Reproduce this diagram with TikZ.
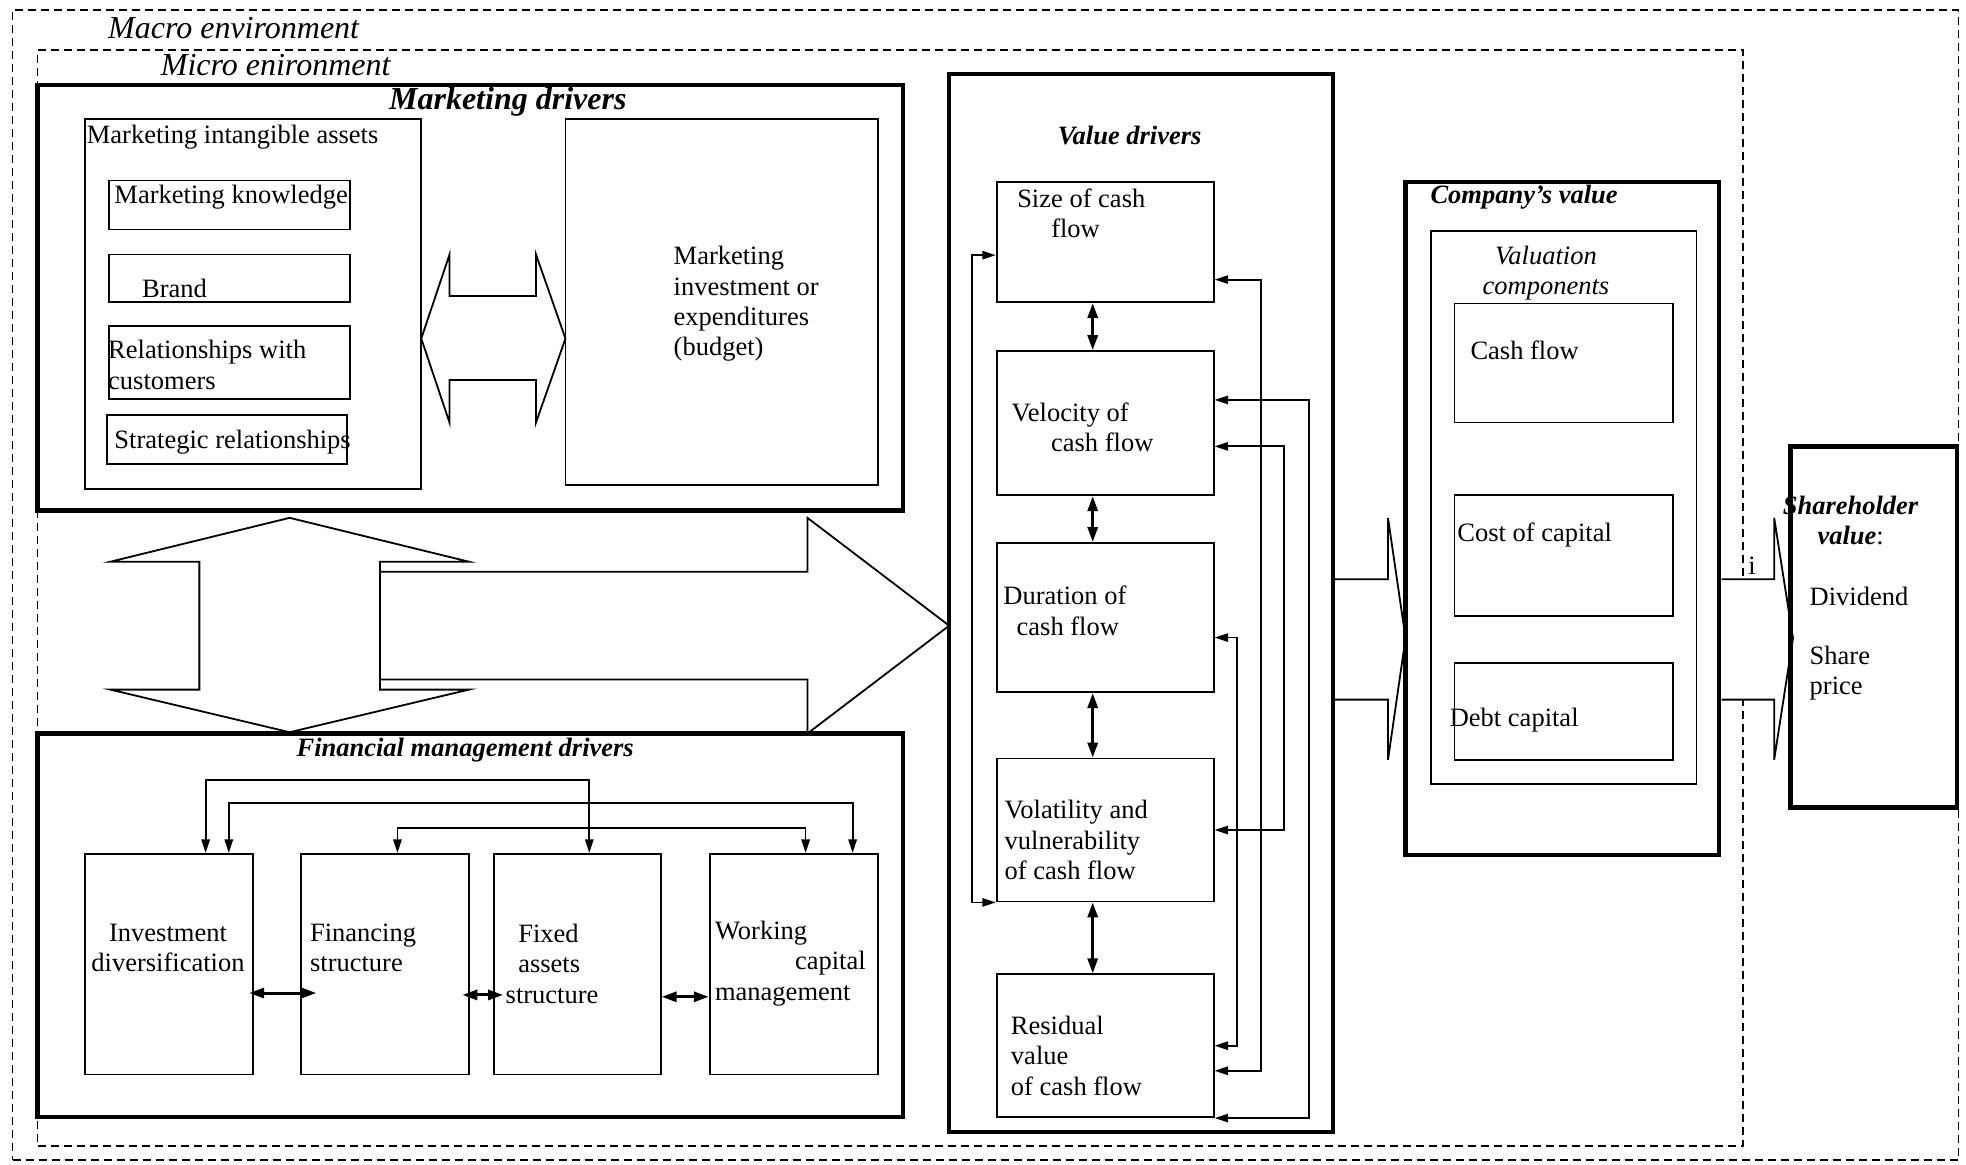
\documentclass[tikz,border=0pt]{standalone}
\usepackage{fontspec}
\setmainfont{Liberation Serif}
\usetikzlibrary{arrows.meta, positioning, calc, fit}

\newcommand{\txtfont}{\fontsize{13.25}{15.2}\selectfont}
\newcommand{\drvfont}{\fontsize{16}{19}\selectfont}

\begin{document}
\begin{tikzpicture}[
    x=0.6269pt, y=-0.6269pt,
    frame/.style={draw, dash pattern=on 4pt off 2.5pt, line width=0.8pt, inner sep=0pt},
    box/.style={draw, line width=0.9pt, inner sep=0pt},
    bigbox/.style={draw, line width=2.2pt, inner sep=0pt},
    blockarrow/.style={draw, line width=0.9pt, fill=white},
    link/.style={line width=0.9pt, {Triangle[length=6.8pt,width=4.2pt]}-{Triangle[length=6.8pt,width=4.2pt]}},
    dlink/.style={line width=1.5pt, {Triangle[length=7.5pt,width=5pt]}-{Triangle[length=7.5pt,width=5pt]}},
    txt/.style={inner sep=0pt, anchor=west, align=left, font=\txtfont},
    ttl/.style={inner sep=0pt, font=\txtfont\bfseries\itshape}
]
    \useasboundingbox (0,0) rectangle (1568,929);

    % environments
    \node[frame, fit={(10,8) (1562,925)}] (macro) {};
    \node[frame, fit={(30,40) (1390,914)}] (micro) {};

    % block arrows
    \draw[blockarrow] (336,270) -- (358.5,203) -- (358.5,236) -- (427.5,236) -- (427.5,203) -- (451,270)
        -- (427.5,337) -- (427.5,303) -- (358.5,303) -- (358.5,337) -- cycle;
    \draw[blockarrow] (303,456) -- (644,456) -- (644,413) -- (757,499) -- (644,585) -- (644,542) -- (303,542) -- cycle;
    \draw[blockarrow] (231,413) -- (374,448) -- (303,448) -- (303,550) -- (374,550) -- (231,584)
        -- (88,550) -- (159,550) -- (159,448) -- (88,448) -- cycle;
    \draw[blockarrow] (1063,462) -- (1107,462) -- (1107,413) -- (1121,509) -- (1107,606) -- (1107,558) -- (1063,558);
    \draw[blockarrow] (1373,462) -- (1415,462) -- (1415,413) -- (1430,509) -- (1415,606) -- (1415,558) -- (1373,558);

    % marketing drivers
    \node[bigbox, fit={(30,68) (720,407)}] (mkt) {};
    \node[box, fit={(68,95) (336,390)}] (intang) {};
    \node[box, fit={(87,144) (279,183)}] (know) {};
    \node[box, fit={(87,203) (279,241)}] (brand) {};
    \node[box, fit={(87,260) (279,318)}] (rel) {};
    \node[box, fit={(85.5,331) (277,370)}] (strat) {};
    \node[box, fit={(451,95) (700,387)}] (budget) {};

    % financial management drivers
    \node[bigbox, fit={(30,585) (720,891)}] (fmd) {};
    \node[box, fit={(68,681) (202,857)}] (inv) {};
    \node[box, fit={(240,681) (374,857)}] (fstr) {};
    \node[box, fit={(394,681) (527,857)}] (fixed) {};
    \node[box, fit={(566,681) (700,857)}] (work) {};

    % value drivers
    \node[bigbox, fit={(757,59) (1063,903)}] (vdr) {};
    \node[box, fit={(795,145) (968,241)}] (size) {};
    \node[box, fit={(795,280) (968,395)}] (velo) {};
    \node[box, fit={(795,433) (968,552)}] (dur) {};
    \node[box, fit={(795,605) (968,719)}] (vola) {};
    \node[box, fit={(795,777) (968,891)}] (resid) {};

    % company's value and shareholder value
    \node[bigbox, fit={(1121,145) (1371,682)}] (comp) {};
    \node[box, fit={(1141,184) (1353,625)}] (valc) {};
    \node[box, fit={(1160,242) (1334,337)}] (cf) {};
    \node[box, fit={(1160,395) (1334,491)}] (coc) {};
    \node[box, fit={(1160,529) (1334,606)}] (debt) {};
    \node[bigbox, fit={(1428,356) (1561,644)}] (shv) {};

    % links between value drivers
    \draw[link] ($(size.west)+(0,10.5)$) -- ++(-19,0) |- (vola.south west);
    \draw[link] ($(size.east)+(0,30)$) -- ++(37,0) |- ($(resid.east)+(0,20)$);
    \draw[link] ($(velo.east)+(0,-18.5)$) -- ++(75,0) |- (resid.south east);
    \draw[link] ($(velo.east)+(0,18.5)$) -- ++(55.5,0) |- (vola.east);
    \draw[link] ($(dur.east)+(0,16)$) -- ++(18,0) |- (resid.east);
    \foreach \a/\b in {size/velo, velo/dur, dur/vola, vola/resid}
        \draw[dlink] ($(\a.south)+(-10,0)$) -- ($(\b.north)+(-10,0)$);

    % links between financial drivers
    \draw[link] ($(inv.north)+(29,0)$) -- ++(0,-58) -| ($(fixed.north)+(9.5,0)$);
    \draw[link] ($(inv.north)+(47.5,0)$) -- ++(0,-40) -| ($(work.north)+(47,0)$);
    \draw[link] ($(fstr.north)+(10,0)$) -- ++(0,-20) -| ($(work.north)+(9.5,0)$);
    \draw[dlink] ($(inv.east)+(-4,23)$) -- ($(fstr.west)+(13,23)$);
    \draw[dlink] ($(fstr.east)+(-6,24.5)$) -- ($(fixed.west)+(8,24.5)$);
    \draw[dlink] ($(fixed.east)+(0,26)$) -- ($(work.west)+(0,26)$);

    % labels
    \node[inner sep=0pt, anchor=west, font=\drvfont\itshape] (macrolbl) at (86,22) {Macro environment};
    \node[inner sep=0pt, anchor=west, font=\drvfont\itshape] (microlbl) at (128,52) {Micro enironment};
    \node[inner sep=0pt, font=\drvfont\bfseries\itshape] (mktlbl) at (405,81) {Marketing drivers};
    \node[txt] (intanglbl) at (69,109) {Marketing intangible assets};
    \node[txt] (knowlbl) at (91,157) {Marketing knowledge};
    \node[txt] (brandlbl) at (113,230) {Brand};
    \node[txt] (rellbl) at (86,291) {Relationships with\\customers};
    \node[txt] (stratlbl) at (91,353) {Strategic relationships};
    \node[txt] (budgetlbl) at (537,242.5) {Marketing\\investment or\\expenditures\\(budget)};

    \node[ttl] (fmdlbl) at (371,598) {Financial management drivers};
    \node[txt, align=center, anchor=center] (invlbl) at (134,756) {Investment\\diversification};
    \node[txt] (fstrlbl) at (247,756) {Financing\\structure};
    \node[txt] (fixedlbl) at (403,768.5) {\hspace*{6.3pt}Fixed\\\hspace*{6.3pt}assets\\structure};
    \node[txt] (worklbl) at (570,768.5) {Working\\\hspace*{40pt}capital\\management};

    \node[ttl] (vdrlbl) at (901,108) {Value drivers};
    \node[txt] (sizelbl) at (811,170) {Size of cash\\\hspace*{17pt}flow};
    \node[txt] (velolbl) at (806.6,341) {Velocity of\\\hspace*{19.7pt}cash flow};
    \node[txt] (durlbl) at (800,487) {Duration of\\\hspace*{6.6pt}cash flow};
    \node[txt] (volalbl) at (801,670) {Volatility and\\vulnerability\\of cash flow};
    \node[txt] (residlbl) at (806,842) {Residual\\value\\of cash flow};

    \node[ttl, anchor=west] (complbl) at (1140.6,157) {Company's value};
    \node[txt, align=center, anchor=center, font=\txtfont\itshape] (valclbl) at (1233,218) {Valuation\\components};
    \node[txt] (cflbl) at (1172.5,279) {Cash flow};
    \node[txt] (coclbl) at (1162,427) {Cost of capital};
    \node[txt] (debtlbl) at (1156,574) {Debt capital};
    \node[txt] (ilbl) at (1394,451) {i};
    \node[txt, align=center, anchor=center] (shvlbl) at (1476,415) {\textbf{\textit{Shareholder}}\\\textbf{\textit{value}}:};
    \node[txt] (divlbl) at (1443,476) {Dividend};
    \node[txt] (sharelbl) at (1443,537) {Share\\price};
\end{tikzpicture}
\end{document}
